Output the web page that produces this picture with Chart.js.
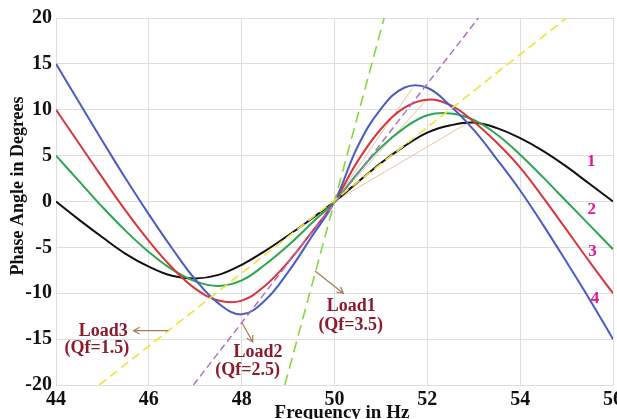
<!DOCTYPE html>
<html>
<head>
<meta charset="utf-8">
<script src="https://cdn.jsdelivr.net/npm/chart.js@4.4.1/dist/chart.umd.min.js"></script>
<style>
  html, body { margin: 0; padding: 0; background: #fff; }
  #wrap { width: 617px; height: 419px; }
</style>
</head>
<body>
<div id="wrap"><canvas id="chart"></canvas></div>
<script>
// ── Données ────────────────────────────────────────────────────────────────
const freq = [44, 44.5, 45, 45.5, 46, 46.5, 47, 47.5, 48, 48.5, 49, 49.5, 50,
              50.5, 51, 51.5, 52, 52.5, 53, 53.5, 54, 54.5, 55, 55.5, 56];

const curve1 = [0, -2.0, -3.9, -5.7, -7.1, -8.1, -8.4, -8.0, -6.9, -5.4, -3.7, -1.9, 0,
                2.1, 4.2, 6.0, 7.5, 8.3, 8.6, 8.0, 6.9, 5.5, 3.8, 1.9, 0];
const curve2 = [5, 2.2, -0.6, -3.2, -5.5, -7.4, -8.7, -9.2, -8.6, -6.9, -4.8, -2.4, 0,
                3.1, 5.9, 8.0, 9.4, 9.6, 8.9, 7.3, 5.1, 2.6, 0, -2.6, -5.2];
const curve3 = [10, 6.3, 2.6, -1.0, -4.3, -7.2, -9.5, -10.8, -10.8, -9.2, -6.6, -3.4, 0,
                4.4, 7.9, 10.2, 11.1, 10.5, 8.7, 6.4, 3.7, 0.4, -3.1, -6.6, -10];
const curve4 = [15, 10.8, 6.6, 2.5, -1.4, -5.1, -8.5, -11.1, -12.3, -10.8, -7.7, -3.9, 0,
                6.0, 10.1, 12.4, 12.4, 10.4, 7.8, 4.6, 1.2, -2.6, -6.6, -10.7, -15];

// droites de charge (Qf = 3.5, 2.5, 1.5)
const load1X = [48.93, 51.07], load1Y = [-20, 20];
const load2X = [46.96, 53.1],  load2Y = [-20, 20];
const load3X = [44.93, 55.0],  load3Y = [-20, 20];

// fines droites beiges partant de 50 Hz
const chordX = [[50, 51.67], [50, 51.95], [50, 52.85]];
const chordY = [[0, 12.3],   [0, 10.9],   [0, 8.5]];

const curveLabels = ['1', '2', '3', '4'];
const loadNames   = ['Load1', 'Load2', 'Load3'];
const loadQf      = ['(Qf=3.5)', '(Qf=2.5)', '(Qf=1.5)'];

const X_MIN = 44, X_MAX = 56, X_STEP = 2;
const Y_MIN = -20, Y_MAX = 20, Y_STEP = 5;

// ── Helpers ────────────────────────────────────────────────────────────────
const pts = (xs, ys) => xs.map((x, i) => ({ x, y: ys[i] }));
const SERIF = '"Liberation Serif", "Times New Roman", serif';

function curve(data, color) {
  return { data: pts(freq, data), borderColor: color, borderWidth: 2,
           pointRadius: 0, tension: 0.4, fill: false };
}
function dashed(xs, ys, color, dash, width) {
  return { data: pts(xs, ys), borderColor: color, borderWidth: width,
           borderDash: dash, pointRadius: 0, tension: 0, fill: false };
}

// ── Textes et flèches annotés ──────────────────────────────────────────────
const annotations = {
  id: 'annotations',
  afterDatasetsDraw(chart) {
    const { ctx, scales: { x, y } } = chart;
    const px = v => x.getPixelForValue(v);
    const py = v => y.getPixelForValue(v);

    ctx.save();
    ctx.textAlign = 'center';
    ctx.textBaseline = 'middle';

    // flèches
    const arrows = [
      [[49.58, -7.58], [50.19, -10.0]],
      [[48.01, -13.24], [48.24, -15.31]],
      [[46.42, -14.08], [45.67, -14.08]],
    ];
    ctx.strokeStyle = '#a87a5c';
    ctx.lineWidth = 1.2;
    for (const [a, b] of arrows) {
      const x1 = px(a[0]), y1 = py(a[1]), x2 = px(b[0]), y2 = py(b[1]);
      const ang = Math.atan2(y2 - y1, x2 - x1);
      ctx.beginPath();
      ctx.moveTo(x1, y1); ctx.lineTo(x2, y2);
      ctx.moveTo(x2 - 7 * Math.cos(ang - 0.5), y2 - 7 * Math.sin(ang - 0.5));
      ctx.lineTo(x2, y2);
      ctx.lineTo(x2 - 7 * Math.cos(ang + 0.5), y2 - 7 * Math.sin(ang + 0.5));
      ctx.stroke();
    }

    // noms des charges
    const spots = [
      [[50.36, -11.47], [50.35, -13.46]],
      [[48.35, -16.44], [48.13, -18.37]],
      [[45.02, -14.19], [44.88, -16.0]],
    ];
    ctx.fillStyle = '#8b1c2e';
    ctx.font = `bold 18px ${SERIF}`;
    spots.forEach(([p1, p2], i) => {
      ctx.fillText(loadNames[i], px(p1[0]), py(p1[1]));
      ctx.fillText(loadQf[i],    px(p2[0]), py(p2[1]));
    });

    // numéros des courbes
    const nums = [[55.53, 4.34], [55.54, -0.93], [55.56, -5.47], [55.61, -10.55]];
    ctx.fillStyle = '#e5178a';
    ctx.font = `bold 17px ${SERIF}`;
    nums.forEach((p, i) => ctx.fillText(curveLabels[i], px(p[0]), py(p[1])));

    // titres des axes
    ctx.fillStyle = '#111';
    ctx.font = `bold 18px ${SERIF}`;
    ctx.save();
    ctx.translate(18, 186);
    ctx.rotate(-Math.PI / 2);
    ctx.fillText('Phase Angle in Degrees', 0, 0);
    ctx.restore();
    ctx.font = `bold 19px ${SERIF}`;
    ctx.fillText('Frequency in Hz', 342, 413);
    ctx.restore();
  },
};

// ── Graphique ──────────────────────────────────────────────────────────────
const datasets = [
  dashed(load3X, load3Y, '#f0e23a', [9, 5], 1.6),
  dashed(load2X, load2Y, '#a86cc8', [7, 4], 1.4),
  dashed(load1X, load1Y, '#86d83c', [11, 6], 1.6),
  curve(curve4, '#4b5cc4'),
  curve(curve3, '#d8363a'),
  curve(curve2, '#2ea650'),
  curve(curve1, '#111111'),
  ...chordX.map((xs, i) => dashed(xs, chordY[i], '#e6c49e', [], 1)),
];

const gridColor = '#dedede';
const tickFont = { family: SERIF, size: 20, weight: 'bold' };

new Chart(document.getElementById('chart'), {
  type: 'line',
  data: { datasets },
  options: {
    animation: false,
    responsive: true,
    maintainAspectRatio: false,
    layout: { padding: { top: 18, right: 4, left: 0, bottom: 0 } },
    plugins: { legend: { display: false }, tooltip: { enabled: false } },
    scales: {
      x: {
        type: 'linear', min: X_MIN, max: X_MAX,
        ticks: { stepSize: X_STEP, color: '#111', font: tickFont, padding: 3, maxRotation: 0 },
        grid: { color: gridColor, drawTicks: false },
        border: { color: gridColor },
        afterFit(s) { s.height = 34; s.paddingLeft = 0; s.paddingRight = 0; },
      },
      y: {
        type: 'linear', min: Y_MIN, max: Y_MAX,
        ticks: { stepSize: Y_STEP, color: '#111', font: tickFont, padding: 4 },
        grid: { color: gridColor, drawTicks: false },
        border: { color: gridColor },
        afterFit(s) { s.width = 56; s.paddingTop = 0; s.paddingBottom = 0; },
      },
    },
  },
  plugins: [annotations],
});
</script>
</body>
</html>
